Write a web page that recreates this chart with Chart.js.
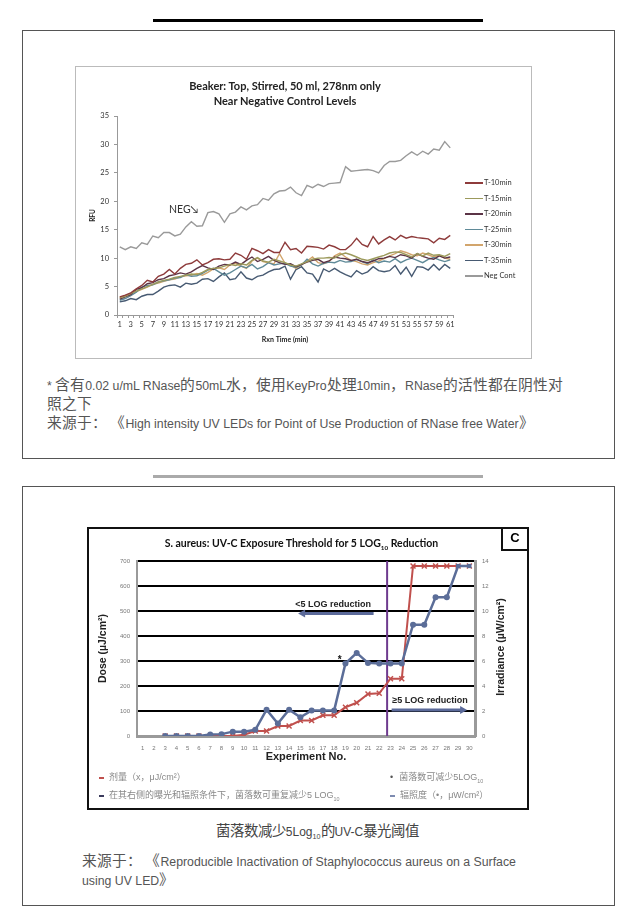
<!DOCTYPE html>
<html lang="zh">
<head>
<meta charset="UTF-8" />
<title>UV LED charts</title>
<script src="https://cdn.jsdelivr.net/npm/chart.js"></script>
<style>
  @font-face {
    font-family: 'CJKWide';
    src: local('Noto Sans CJK SC'), local('Noto Sans CJK SC Regular'), local('NotoSansCJKsc-Regular');
    size-adjust: 120%;
    unicode-range: U+3000-303F, U+4E00-9FFF, U+FF00-FFEF;
  }
  body { margin: 0; background: #fff; font-family: 'Liberation Sans', 'Noto Sans CJK SC', sans-serif; }
  .page { position: relative; width: 635px; height: 919px; overflow: hidden; }
  .bar { position: absolute; left: 153px; width: 330px; height: 3px; }
  .panel { position: absolute; left: 22px; width: 591px; border: 1px solid #555; }
  .note { position: absolute; font-family: 'Liberation Sans', 'CJKWide', 'Noto Sans CJK SC', sans-serif;
          font-size: 12.3px; line-height: 14px; color: #555; white-space: nowrap; }
  .frame1 { position: absolute; left: 75px; top: 66px; width: 455px; height: 291px; border: 1px solid #bbb; }
  .frame2 { position: absolute; left: 87px; top: 527px; width: 438px; height: 279px; border: 2px solid #111; }
  .t1 { position: absolute; left: 117px; width: 336px; text-align: center; font: bold 11px Lato, sans-serif; color: #222; }
  .lg1 { position: absolute; left: 465px; font: 7.5px Lato, sans-serif; color: #333; white-space: nowrap; }
  .lg1 i { display: inline-block; width: 18px; height: 1.5px; vertical-align: middle; margin-right: 1px; }
  .lg2 { position: absolute; font-size: 9px; color: #888; white-space: nowrap; }
  .lg2 b { display: inline-block; width: 5px; height: 2px; vertical-align: middle; margin-right: 5px; }
  sub { font-size: 0.6em; }
</style>
</head>
<body>
<div class="page">
  <div class="bar" style="top:19px;background:#000"></div>
  <div class="panel" style="top:30px;height:427px"></div>
  <div class="frame1"></div>
  <canvas id="rnase" width="454" height="290" style="position:absolute;left:76px;top:67px"></canvas>
  <div class="t1" style="top:79px">Beaker: Top, Stirred, 50 ml, 278nm only</div>
  <div class="t1" style="top:94px">Near Negative Control Levels</div>
  <div style="position:absolute;left:169px;top:203px;font:10.5px Lato,'DejaVu Sans',sans-serif;color:#333">NEG↘</div>
  <div id="legend1"></div>
  <div class="note" style="left:47px;top:379px">* 含有0.02 u/mL RNase的50mL水，使用KeyPro处理10min，RNase的活性都在阴性对</div>
  <div class="note" style="left:47px;top:398px">照之下</div>
  <div class="note" style="left:47px;top:417px">来源于： 《High intensity UV LEDs for Point of Use Production of RNase free Water》</div>

  <div class="bar" style="top:475px;background:#aaa"></div>
  <div class="panel" style="top:486px;height:418px"></div>
  <div class="frame2"></div>
  <canvas id="aureus" width="438" height="279" style="position:absolute;left:89px;top:529px"></canvas>
  <div style="position:absolute;left:134px;width:335px;top:537px;text-align:center;font:bold 10.5px Lato,sans-serif;color:#111">S. aureus: UV-C Exposure Threshold for 5 LOG<sub>10</sub> Reduction</div>
  <div style="position:absolute;left:501px;top:527px;width:24px;height:22px;border:2px solid #111;border-top:none;border-right:none;font:bold 13px 'Liberation Sans',sans-serif;text-align:center;line-height:22px">C</div>
  <div style="position:absolute;left:450px;top:641px;width:100px;text-align:center;transform:rotate(-90deg);font:bold 10.5px 'Liberation Sans',sans-serif;color:#222;white-space:nowrap">Irradiance (µW/cm²)</div>
  <div class="lg2" style="left:99px;top:770px"><b style="background:#c0504d"></b>剂量（x，μJ/cm²）</div>
  <div class="lg2" style="left:99px;top:788px"><b style="background:#3b3b5c"></b>在其右侧的曝光和辐照条件下，菌落数可重复减少5 LOG<sub>10</sub></div>
  <div class="lg2" style="left:390px;top:770px"><span style="color:#555;margin-right:6px">•</span>菌落数可减少5LOG<sub>10</sub></div>
  <div class="lg2" style="left:390px;top:788px"><b style="background:#7d8bb0"></b>辐照度（•，μW/cm²）</div>

  <div class="note" style="left:0;width:635px;text-align:center;top:825px;font-size:12px;color:#444">菌落数减少5Log<sub>10</sub>的UV-C暴光阈值</div>
  <div class="note" style="left:82px;top:855px">来源于： 《Reproducible Inactivation of Staphylococcus aureus on a Surface</div>
  <div class="note" style="left:82px;top:874px">using UV LED》</div>
</div>

<script>
  // ---- chart 1: RFU vs reaction time ----
  const minutes = Array.from({ length: 61 }, (_, i) => String(i + 1));
  const seriesNames = ['T-10min', 'T-15min', 'T-20min', 'T-25min', 'T-30min', 'T-35min', 'Neg Cont'];
  const seriesColors = ['#8e3b3b', '#9c9a5c', '#5b3446', '#5f8a98', '#d2a56c', '#475a72', '#9a9a9a'];

  const t10 = [3.2,3.5,3.9,4.6,5.2,6.1,5.8,6.8,7.2,8.0,7.2,8.2,8.9,9.1,9.7,8.8,9.2,9.8,9.9,9.7,9.8,10.9,10.5,9.8,11.7,11.3,10.8,11.5,11.0,11.0,
               12.8,11.5,11.7,10.9,12.1,12.0,11.9,11.6,12.3,12.0,11.5,11.5,12.3,13.5,12.4,12.0,13.8,12.5,13.2,13.8,13.2,14.0,13.5,13.8,13.6,13.5,13.4,12.7,13.5,13.3,14.0];
  const t15 = [3.0,3.3,3.8,4.2,4.6,5.0,5.4,5.8,6.1,6.3,6.6,6.8,7.0,7.2,7.1,7.5,8.0,8.2,8.3,8.6,8.9,8.7,9.0,8.8,9.6,10.1,9.5,9.3,9.8,9.5,
               9.2,8.8,8.6,9.0,9.4,9.8,10.0,10.0,10.1,10.0,10.6,10.9,10.6,10.2,9.8,9.6,9.9,10.2,10.5,10.9,11.1,11.0,10.6,10.2,10.8,10.4,10.9,10.5,10.6,10.3,10.8];
  const t20 = [2.8,3.2,3.6,4.5,4.8,5.5,5.7,6.2,6.4,6.9,7.1,7.4,7.2,7.6,8.2,8.7,8.3,8.0,8.6,8.9,8.8,9.3,8.9,9.6,10.2,9.4,9.8,10.3,9.6,9.2,
               8.9,9.0,8.5,8.9,9.3,9.6,9.8,9.2,9.5,10.2,10.0,9.9,9.6,9.8,9.4,9.2,9.5,9.9,10.0,10.3,10.1,10.6,10.4,10.0,10.8,10.3,10.0,9.8,10.4,10.0,10.2];
  const t25 = [2.6,2.9,3.4,4.0,4.9,5.2,5.3,5.8,6.0,6.2,6.5,6.6,7.1,6.8,6.9,7.3,7.9,8.2,7.6,7.0,7.4,8.0,8.6,8.3,8.9,8.1,8.5,9.2,8.8,9.0,
               9.1,8.6,8.4,8.8,9.8,9.0,8.6,9.1,9.3,9.2,9.6,9.3,9.4,9.8,9.4,9.0,9.7,9.2,9.5,9.3,9.9,9.2,9.7,10.0,9.6,9.2,9.8,10.1,9.7,9.4,9.7];
  const t30 = [3.1,3.4,3.7,4.1,4.5,4.9,5.4,5.6,5.9,6.2,6.3,6.7,6.9,7.0,7.3,7.0,7.5,8.1,8.3,8.0,8.8,9.1,8.6,8.2,9.5,10.0,9.4,9.2,9.0,10.8,
               9.1,8.8,8.2,8.8,9.5,10.2,9.2,9.0,9.4,10.4,10.9,10.2,9.6,9.4,9.0,8.8,9.2,9.5,9.9,10.4,10.8,11.3,11.0,10.6,10.4,10.9,10.6,10.2,10.5,10.0,9.8];
  const t35 = [2.3,2.5,2.9,2.7,3.3,3.6,3.6,4.2,4.9,5.2,5.3,4.9,5.6,5.4,5.6,6.3,6.4,5.9,6.7,7.4,6.2,6.4,7.6,6.5,6.2,6.8,7.0,7.6,8.0,8.1,
               8.6,6.3,8.0,8.5,7.4,7.2,5.8,8.1,7.6,8.2,7.6,7.1,6.7,7.8,7.2,7.6,8.5,7.8,7.6,7.8,8.7,7.2,8.4,6.8,8.5,8.4,7.9,8.9,7.9,8.9,8.2];
  const negCont = [12.0,11.5,12.0,11.7,12.7,12.4,13.9,13.6,14.5,14.5,13.9,14.2,15.5,16.4,15.6,15.7,18.0,18.2,17.8,16.3,17.8,18.1,19.0,18.5,19.2,19.4,20.5,20.2,21.3,21.8,
                   21.9,22.5,21.5,21.0,22.8,22.4,23.0,22.6,23.1,23.2,23.3,26.1,25.3,25.4,25.5,25.6,25.4,25.0,26.3,27.0,27.0,27.2,28.0,28.7,28.1,28.8,28.3,29.2,29.0,30.5,29.4];
  const rfuSeries = [t10, t15, t20, t25, t30, t35, negCont];

  // html legend for chart 1
  const lg = document.getElementById('legend1');
  seriesNames.forEach((name, i) => {
    const d = document.createElement('div');
    d.className = 'lg1';
    d.style.top = (178 + i * 15.5) + 'px';
    d.innerHTML = '<i style="background:' + seriesColors[i] + '"></i>' + name;
    lg.appendChild(d);
  });

  const small = { size: 7.5, family: 'Lato' };

  new Chart(document.getElementById('rnase'), {
    type: 'line',
    data: {
      labels: minutes,
      datasets: rfuSeries.map((vals, i) => ({
        label: seriesNames[i], data: vals, borderColor: seriesColors[i], borderWidth: 1.4, pointRadius: 0
      }))
    },
    options: {
      responsive: false, animation: false,
      layout: { padding: { top: 49, right: 77, left: 0, bottom: 0 } },
      plugins: { legend: { display: false }, tooltip: { enabled: false } },
      scales: {
        x: {
          offset: true,
          grid: { drawOnChartArea: false, tickLength: 3, color: '#999', offset: true },
          border: { color: '#999' },
          ticks: { autoSkip: false, maxRotation: 0, padding: 2, font: small, color: '#333',
                   callback: (v, i) => i % 2 === 0 ? minutes[i] : '' },
          title: { display: true, text: 'Rxn Time (min)', font: { size: 7, weight: 'bold', family: 'Lato' }, color: '#222', padding: { top: 0, bottom: 13 } },
          afterFit: s => { s.height = 42; }
        },
        y: {
          min: 0, max: 35,
          grid: { drawOnChartArea: false, tickLength: 3, color: '#999' },
          border: { color: '#999' },
          ticks: { stepSize: 5, padding: 5, font: small, color: '#333' },
          title: { display: true, text: 'RFU', font: { size: 6.5, weight: 'bold', family: 'Lato' }, color: '#222', padding: { top: 13, bottom: 0 } },
          afterFit: s => { s.width = 41; }
        }
      }
    }
  });

  // ---- chart 2: S. aureus exposure threshold ----
  const experiments = Array.from({ length: 30 }, (_, i) => String(i + 1));
  const doseUJ = [null,null,0,0,0,0,0,0,0,5,20,20,40,40,62,62,83,83,115,133,168,171,229,229,680,680,680,680,680,680];
  const irradianceUW = [null,null,0,0,0,0,0.12,0.15,0.35,0.35,0.5,2.1,1.0,2.1,1.5,2.05,2.05,2.05,5.8,6.65,5.85,5.8,5.8,5.8,8.9,8.9,11.1,11.1,13.6,13.6];
  const irradianceMarks = irradianceUW.map((v, i) => i >= 28 ? 'rect' : 'circle');
  const thresholdExp = 22.7;   // vertical line: 5 LOG reproducible from here on
  const starExp = 18.5, starDose = 305;

  const blue = '#5b6d98', red = '#c0504d';

  const overlay = {
    id: 'overlay',
    beforeDatasetsDraw(chart) {
      const { ctx, chartArea: a, scales: { x } } = chart;
      const px = x.getPixelForValue(thresholdExp - 1);
      ctx.save();
      ctx.strokeStyle = '#6e3a8e';
      ctx.lineWidth = 2;
      ctx.beginPath(); ctx.moveTo(px, a.top); ctx.lineTo(px, a.bottom); ctx.stroke();
      ctx.restore();
    },
    afterDatasetsDraw(chart) {
      const { ctx, scales: { x, y } } = chart;
      const P = (e, v) => [x.getPixelForValue(e - 1), y.getPixelForValue(v)];
      const arrow = (e0, e1, v) => {
        const [x0, yy] = P(e0, v), [x1] = P(e1, v);
        const dir = Math.sign(x1 - x0);
        ctx.strokeStyle = '#5b6a9a'; ctx.fillStyle = '#5b6a9a'; ctx.lineWidth = 3;
        ctx.beginPath(); ctx.moveTo(x0, yy); ctx.lineTo(x1 - dir * 5, yy); ctx.stroke();
        ctx.beginPath(); ctx.moveTo(x1, yy); ctx.lineTo(x1 - dir * 7, yy - 4); ctx.lineTo(x1 - dir * 7, yy + 4); ctx.closePath(); ctx.fill();
      };
      ctx.save();
      ctx.font = 'bold 9px "Liberation Sans", sans-serif';
      ctx.textAlign = 'center'; ctx.textBaseline = 'middle';
      let [tx, ty] = P(17.9, 527);
      ctx.fillStyle = '#222'; ctx.fillText('<5 LOG reduction', tx, ty);
      arrow(21.5, 14.8, 490);
      [tx, ty] = P(26.5, 140);
      const w = ctx.measureText('≥5 LOG reduction').width;
      ctx.fillStyle = '#fff'; ctx.fillRect(tx - w / 2 - 2, ty - 6, w + 4, 12);
      ctx.fillStyle = '#222'; ctx.fillText('≥5 LOG reduction', tx, ty);
      arrow(23.1, 29.8, 104);
      [tx, ty] = P(starExp, starDose);
      ctx.font = 'bold 10px "Liberation Sans", sans-serif';
      ctx.fillStyle = '#111'; ctx.fillText('*', tx, ty);
      ctx.restore();
    }
  };

  const tiny = { size: 6, family: 'Liberation Sans' };

  new Chart(document.getElementById('aureus'), {
    type: 'line',
    data: {
      labels: experiments,
      datasets: [
        { label: '辐照度', data: irradianceUW, yAxisID: 'y2', borderColor: blue, backgroundColor: blue, borderWidth: 2.5,
          pointStyle: irradianceMarks, pointRadius: 3, pointBorderWidth: 0 },
        { label: '剂量', data: doseUJ, yAxisID: 'y', borderColor: red, backgroundColor: red, borderWidth: 2,
          pointStyle: 'crossRot', pointRadius: 3.5, pointBorderWidth: 1.5 }
      ]
    },
    options: {
      responsive: false, animation: false,
      layout: { padding: { top: 32, right: 0, left: 0, bottom: 42 } },
      plugins: { legend: { display: false }, tooltip: { enabled: false } },
      scales: {
        x: {
          offset: true,
          grid: { display: false },
          border: { color: '#9a9a9a', width: 3 },
          ticks: { autoSkip: false, maxRotation: 0, padding: 1, font: tiny, color: '#777' },
          title: { display: true, text: 'Experiment No.', font: { size: 11, weight: 'bold', family: 'Liberation Sans' }, color: '#222', padding: { top: 0, bottom: 2 } },
          afterFit: s => { s.height = 30; }
        },
        y: {
          position: 'left', min: 0, max: 700,
          grid: { color: c => c.tick.value === 0 ? '#9a9a9a' : '#000', lineWidth: 2, drawTicks: false },
          border: { color: '#9a9a9a', width: 2 },
          ticks: { stepSize: 100, padding: 7, font: tiny, color: '#777' },
          title: { display: true, text: 'Dose (µJ/cm²)', font: { size: 10.5, weight: 'bold', family: 'Liberation Sans' }, color: '#222', padding: { top: 8, bottom: 0 } },
          afterFit: s => { s.width = 48; }
        },
        y2: {
          position: 'right', min: 0, max: 14,
          grid: { drawOnChartArea: false, drawTicks: false },
          border: { color: '#9a9a9a', width: 3 },
          ticks: { stepSize: 2, padding: 7, font: tiny, color: '#777' },
          afterFit: s => { s.width = 52; }
        }
      }
    },
    plugins: [overlay]
  });
</script>
</body>
</html>
